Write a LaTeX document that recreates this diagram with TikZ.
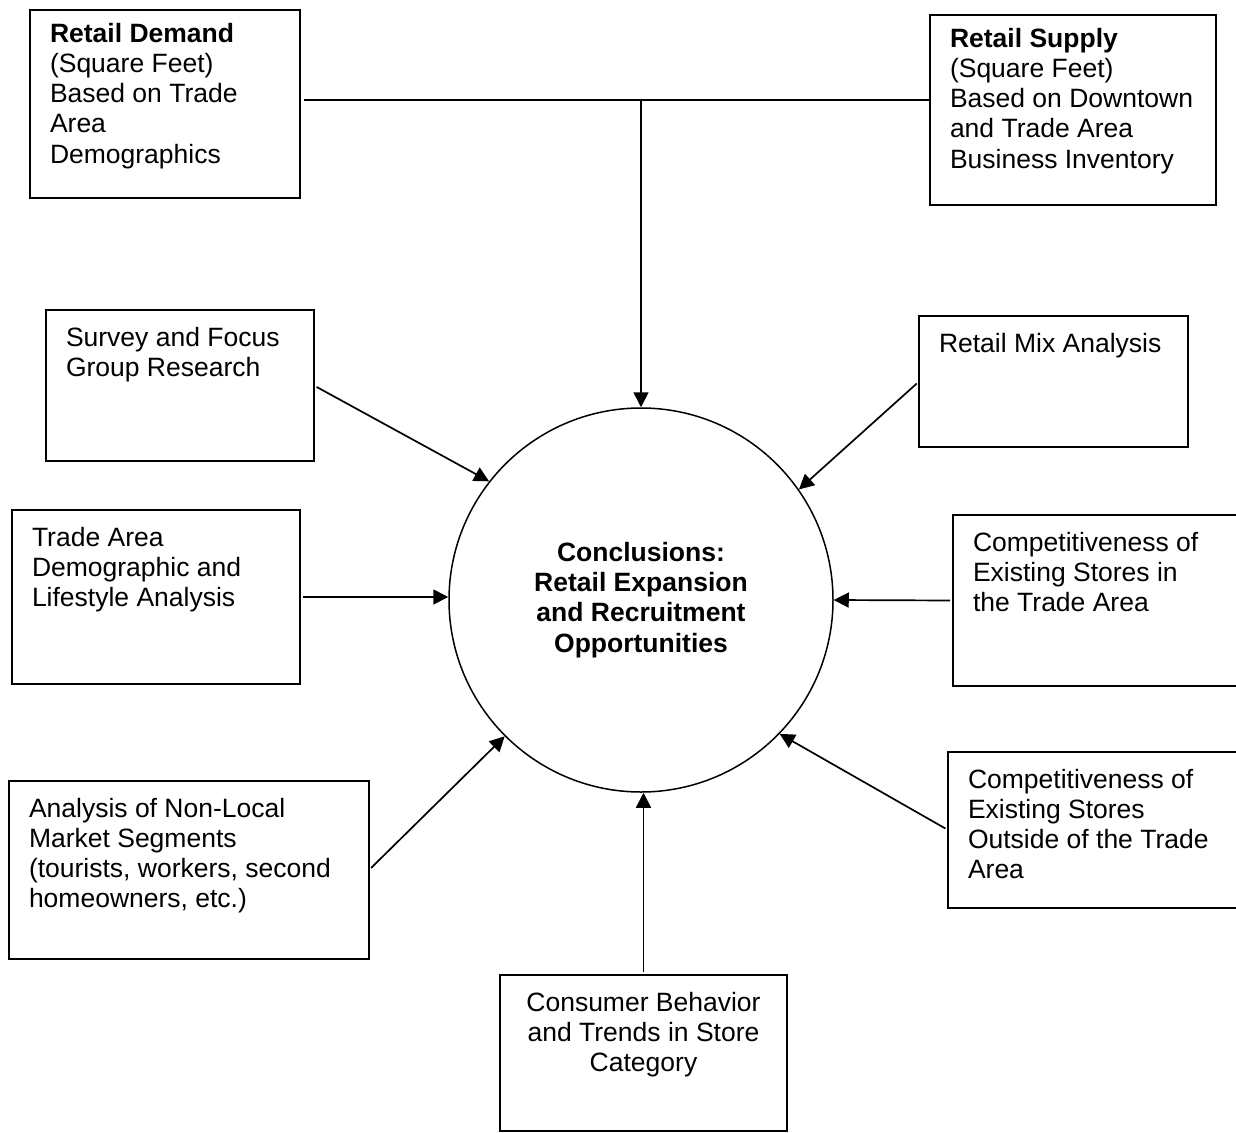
\documentclass[tikz,border=0pt]{standalone}
\usepackage{fontspec}
\setmainfont{Liberation Sans}
\usetikzlibrary{arrows.meta}
\newcommand{\boxtext}[4][\raggedright]{\parbox[c][#3][t]{#2}{#1#4}}

\begin{document}
\begin{tikzpicture}[x=1pt,y=-1pt,>={Triangle[length=15pt,width=15pt]},line width=1.7pt,
      infobox/.style={draw, line width=2pt, anchor=north west, inner xsep=20pt, inner ysep=17pt,
        outer sep=0pt, font=\fontsize{26.5}{30.2}\selectfont},
      link/.style={->, shorten <=3pt}]
      \useasboundingbox (0,0) rectangle (1236,1132);
      \node (demand) [infobox, inner ysep=13pt] at (30,10)
        {\boxtext{230pt}{162pt}{\textbf{Retail Demand}\\(Square Feet)\\Based on Trade\\Area\\Demographics}};
      \node (supply) [infobox, inner ysep=13pt] at (930,15)
        {\boxtext{246pt}{164pt}{\textbf{Retail Supply}\\(Square Feet)\\Based on Downtown\\and Trade Area\\Business Inventory}};
      \node (survey) [infobox] at (46,310)
        {\boxtext{228pt}{117pt}{Survey and Focus\\Group Research}};
      \node (mix) [infobox] at (919,316)
        {\boxtext{229pt}{97pt}{Retail Mix Analysis}};
      \node (trade) [infobox] at (12,510)
        {\boxtext{248pt}{140pt}{Trade Area\\Demographic and\\Lifestyle Analysis}};
      \node (comp1) [infobox] at (953,515)
        {\boxtext{246pt}{137pt}{Competitiveness of\\Existing Stores in\\the Trade Area}};
      \node (nonlocal) [infobox] at (9,781)
        {\boxtext{320pt}{144pt}{Analysis of Non-Local\\Market Segments\\(tourists, workers, second\\homeowners, etc.)}};
      \node (compout) [infobox] at (948,752)
        {\boxtext{251pt}{122pt}{Competitiveness of\\Existing Stores\\Outside of the Trade\\Area}};
      \node (consumer) [infobox] at (500,975)
        {\boxtext[\centering]{247pt}{122pt}{Consumer Behavior\\and Trends in Store\\Category}};
      \node (concl) [circle, draw, line width=1.5pt, minimum size=384pt, inner sep=0pt, align=center,
        font=\bfseries\fontsize{26.5}{30.2}\selectfont] at (641,600)
        {Conclusions:\\Retail Expansion\\and Recruitment\\Opportunities};
      \coordinate (join) at (641,100);
      \draw ([xshift=4pt]demand.east |- join) -- (supply.west |- join);
      \draw[->] (join) -- (concl);
      \draw[link] (survey.east) -- (concl.142);
      \draw[link] (mix.west) -- (concl.35);
      \draw[link] (trade.east) -- (concl.west |- trade.east);
      \draw[link] (comp1.west) -- (concl.east);
      \draw[link] (nonlocal.east) -- (concl.225);
      \draw[link] (compout.west) -- (concl.316);
      \draw[link] (consumer.north) -- (consumer.north |- concl.south);
  \end{tikzpicture}
\end{document}
